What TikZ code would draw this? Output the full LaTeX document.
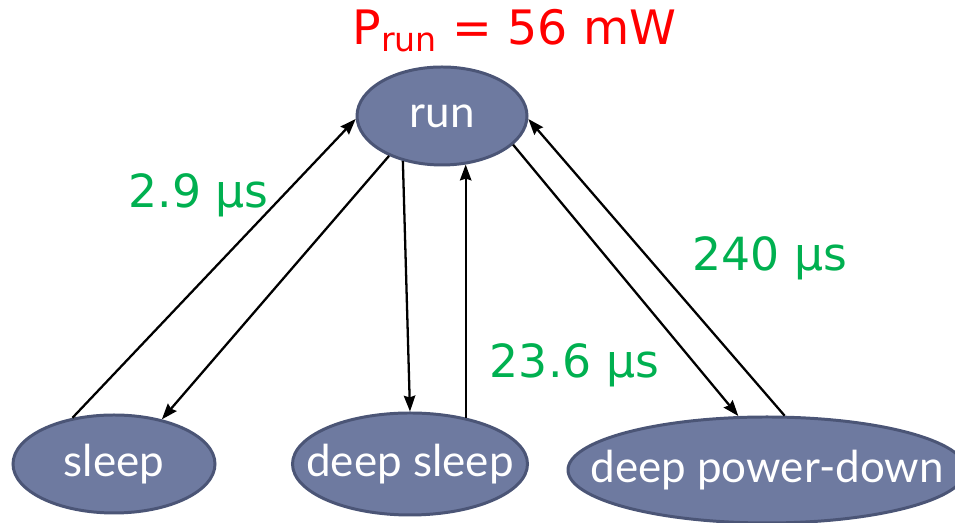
\documentclass[tikz,border=0pt]{standalone}
\usepackage{fontspec}
\setmainfont{Lato}
\newfontfamily\labelfont{DejaVu Sans}
\usetikzlibrary{arrows.meta,shapes.geometric}
\definecolor{statefill}{HTML}{6E7AA0}
\definecolor{stateedge}{HTML}{4B5576}
\definecolor{timegreen}{HTML}{00B050}
\definecolor{powerred}{HTML}{FF0000}

\begin{document}
\begin{tikzpicture}[
		state/.style={ellipse, draw=stateedge, fill=statefill, line width=1.7pt,
			text=white, font=\fontsize{25}{28}\selectfont,
			inner xsep=-4cm, inner ysep=-2cm},
		timing/.style={font=\labelfont\fontsize{26}{30}\selectfont, text=timegreen, anchor=base},
		power/.style={font=\labelfont\fontsize{27}{31}\selectfont, text=powerred, anchor=base},
		trans/.style={-{Stealth[length=9pt, width=6.5pt, inset=1pt]}, line width=1.3pt},
	]

	% frame of the picture
	\useasboundingbox (0,0) rectangle (19.1,10.46);
	\clip (0,0) rectangle (19.1,10.46);

	% states
	\node[state, minimum width=3.4cm, minimum height=1.96cm] (run) at (8.84, 8.14) {run};
	\node[state, minimum width=4.04cm, minimum height=1.96cm] (sleep) at (2.28, 1.18) {sleep};
	\node[state, minimum width=4.7cm, minimum height=2.04cm] (dsleep) at (8.2, 1.18) {deep sleep};
	\node[state, minimum width=7.96cm, minimum height=2.12cm] (dpd) at (15.34, 1.06) {deep power-down};

	% labels
	\node[power] (prun) at (10.29, 9.56) {P\textsubscript{run} = 56 mW};
	\node[timing] (tsleep) at (3.97, 6.3) {2.9 μs};
	\node[timing] (tdsleep) at (11.49, 2.9) {23.6 μs};
	\node[timing] (tdpd) at (15.4, 5.04) {240 μs};

	% transitions
	\draw[trans] (sleep.132) -- (run.182);
	\draw[trans] (run.217) -- (sleep.43);
	\draw[trans] (run.229.5) -- (dsleep.90);
	\draw[trans] (run.296 |- dsleep.40) -- (run.296);
	\draw[trans] (run.338) -- (dpd.118);
	\draw[trans] (dpd.72) -- (run.358);

\end{tikzpicture}
\end{document}
